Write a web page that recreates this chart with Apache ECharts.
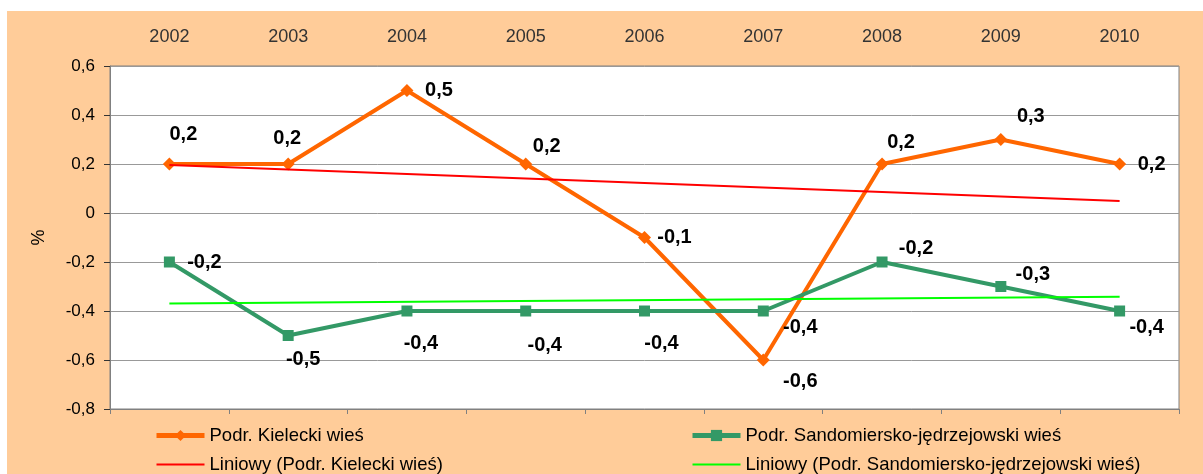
<!DOCTYPE html>
<html>
<head>
<meta charset="utf-8">
<script src="https://cdn.jsdelivr.net/npm/echarts@6/dist/echarts.min.js"></script>
<style>
html,body{margin:0;padding:0;background:#fff;}
#wrap{position:absolute;left:7px;top:11px;width:1196px;height:463px;background:#FFCC99;}
#chart{width:1196px;height:463px;}
</style>
</head>
<body>
<div id="wrap"><div id="chart"></div></div>
<script>
const years = ['2002','2003','2004','2005','2006','2007','2008','2009','2010'];
const kielecki = [0.2, 0.2, 0.5, 0.2, -0.1, -0.6, 0.2, 0.3, 0.2];
const sandomiersko = [-0.2, -0.5, -0.4, -0.4, -0.4, -0.4, -0.2, -0.3, -0.4];
// trend line endpoints (2002, 2010)
const kieleckiTrend = [0.196, 0.049];
const sandomierskoTrend = [-0.369, -0.342];
const names = ['Podr. Kielecki wieś', 'Podr. Sandomiersko-jędrzejowski wieś',
  'Liniowy (Podr. Kielecki wieś)', 'Liniowy (Podr. Sandomiersko-jędrzejowski wieś)'];

const kOff = [[14,-30],[-1,-26],[32,0],[21,-18],[30,0],[37,21],[19,-22],[30,-23],[32,0]];
const sOff = [[35,0],[15,24],[14,32],[19,34],[17,32],[37,16],[34,-14],[32,-12],[27,16]];

function fmt(v){ return (v === 0 ? '0' : v.toFixed(1)).replace('.', ','); }
function withLabels(vals, offs){
  return vals.map((v,i)=>({value:v, label:{show:true, position:'inside', offset:offs[i],
    formatter: fmt(v), fontSize:20, fontWeight:'bold', color:'#000', fontFamily:'Liberation Sans, Arial'}}));
}
function trend(ends){
  const d = years.map(()=>null);
  d[0] = ends[0]; d[years.length-1] = ends[1];
  return d;
}

const chart = echarts.init(document.getElementById('chart'));
const font = 'Liberation Sans, Arial, sans-serif';
const legendCommon = {top:410, orient:'vertical', itemGap:10, itemWidth:48, itemHeight:14, height:53,
  textStyle:{fontSize:18.5, color:'#000', fontFamily:font}};
chart.setOption({
  animation:false,
  textStyle:{fontFamily:font},
  grid:{left:103, top:55, right:24, bottom:65, show:true, backgroundColor:'#fff', borderColor:'#808080', borderWidth:1},
  legend:[
    Object.assign({left:142, data:[{name:names[0], lineStyle:{width:5}},
      {name:names[2], itemStyle:{opacity:0}, lineStyle:{width:2}}]}, legendCommon),
    Object.assign({left:678, data:[{name:names[1], lineStyle:{width:5}},
      {name:names[3], itemStyle:{opacity:0}, lineStyle:{width:2}}]}, legendCommon)
  ],
  xAxis:[
    {type:'category', data:years, position:'top', boundaryGap:true,
     axisLine:{show:false}, axisTick:{show:false}, splitLine:{show:false},
     axisLabel:{margin:20, fontSize:18, color:'#333', fontFamily:font}},
    {type:'category', data:years, position:'bottom', boundaryGap:true,
     axisLine:{show:true, onZero:true, lineStyle:{color:'#808080', width:1}},
     axisTick:{show:true, length:5, inside:false, lineStyle:{color:'#808080'}},
     axisLabel:{show:false}, splitLine:{show:false}}
  ],
  yAxis:{type:'value', min:-0.8, max:0.6, interval:0.2,
    name:'%', nameLocation:'middle', nameGap:62, nameRotate:90,
    nameTextStyle:{fontSize:18, color:'#000', fontFamily:font},
    axisLine:{show:true, lineStyle:{color:'#808080'}},
    axisTick:{show:true, length:6, lineStyle:{color:'#333'}},
    axisLabel:{margin:15, fontSize:17, color:'#000', fontFamily:font, formatter:fmt},
    splitLine:{show:true, lineStyle:{color:'#999', width:1}}
  },
  series:[
    {name:names[0], type:'line', data:withLabels(kielecki,kOff), symbol:'diamond', symbolSize:13,
     lineStyle:{color:'#FF6600', width:4}, itemStyle:{color:'#FF6600'}, z:3},
    {name:names[1], type:'line', data:withLabels(sandomiersko,sOff), symbol:'rect', symbolSize:11,
     lineStyle:{color:'#339966', width:4}, itemStyle:{color:'#339966'}, z:3},
    {name:names[2], type:'line', data:trend(kieleckiTrend), connectNulls:true, symbol:'none',
     lineStyle:{color:'#FF0000', width:2}, itemStyle:{color:'#FF0000'}, z:4},
    {name:names[3], type:'line', data:trend(sandomierskoTrend), connectNulls:true, symbol:'none',
     lineStyle:{color:'#00FF00', width:2}, itemStyle:{color:'#00FF00'}, z:4}
  ]
});
</script>
</body>
</html>
